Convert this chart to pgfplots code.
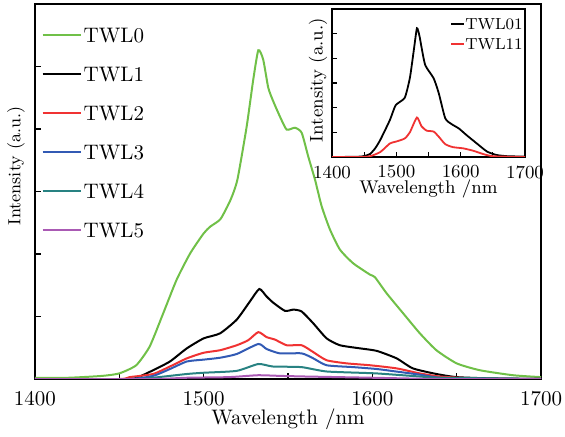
\documentclass[border=0pt]{standalone}
\usepackage{pgfplots}
\pgfplotsset{compat=1.18}
\definecolor{cgreen}{RGB}{112,192,72}
\definecolor{cred}{RGB}{240,50,50}
\definecolor{cblue}{RGB}{50,90,180}
\definecolor{cteal}{RGB}{40,130,130}
\definecolor{cpurple}{RGB}{170,90,180}
\begin{document}
\begin{tikzpicture}
\begin{axis}[
    name=main,
    scale only axis,
    width=253pt, height=187.5pt,
    xmin=1400, xmax=1700, ymin=0, ymax=6,
    axis line style={line width=0.8pt},
    xtick={1400,1450,...,1700},
    xticklabels={1400,,1500,,1600,,1700},
    ytick={1,2,3,4,5},
    yticklabels={},
    tick pos=left,
    tick align=inside,
    major tick length=3pt,
    tick style={black, line width=0.7pt},
    ticklabel style={font=\fontsize{10.5}{12}\selectfont},
    xticklabel style={yshift=-2.6pt},
    xlabel={Wavelength /nm},
    ylabel={Intensity (a.u.)},
    label style={font=\fontsize{10.5}{12}\selectfont, inner sep=0pt},
    xlabel style={at={(axis description cs:0.5,-0.106)}, anchor=center},
    ylabel style={at={(axis description cs:-0.0375,0.568)}, anchor=center,
        font=\fontsize{8.8}{10}\selectfont},
    legend image code/.code={\draw[#1,sharp plot] (0pt,0pt) -- (19pt,0pt);},
    legend style={draw=none, fill=none, inner sep=0pt,
        at={(axis description cs:0.0125,0.937)}, anchor=north west,
        font=\fontsize{10.5}{12}\selectfont,
        row sep=12.5pt, column sep=1pt,
        nodes={inner sep=0pt, text height=7pt, text depth=0pt}},
    legend cell align=left,
    every axis plot/.append style={line width=1pt},
]
\addplot[cgreen, smooth, tension=0.35] coordinates {
(1400,0.02)(1420,0.02)(1440,0.05)(1450,0.09)(1460,0.22)(1468,0.52)(1476,1.05)
(1484,1.59)(1492,2.01)(1500,2.33)(1504,2.44)(1510,2.56)(1516,2.87)(1520,3.19)
(1525.5,4.04)(1529.4,4.79)(1532.4,5.26)(1535.3,5.11)(1538.3,4.66)(1541.3,4.44)
(1545.2,4.2)(1549.2,3.99)(1554.1,4.02)(1558.1,3.94)(1562,3.56)(1566,3.19)
(1570,2.76)(1574.9,2.39)(1580.8,2.07)(1588.7,1.85)(1598.6,1.67)(1601.5,1.63)
(1608.5,1.37)(1618.3,1.05)(1628.2,0.73)(1638,0.46)(1650,0.25)(1663.8,0.14)
(1683.5,0.06)(1700,0.03)};
\addlegendentry{TWL0}
\addplot[black, smooth, tension=0.35] coordinates {
(1400,0)(1455,0)(1462,0.04)(1470,0.14)(1480,0.28)(1490,0.49)(1500,0.65)
(1509.7,0.73)(1519.6,0.95)(1527.4,1.24)(1533,1.44)(1537.3,1.32)(1541.3,1.22)
(1548.2,1.09)(1553.2,1.11)(1558.1,1.08)(1565,0.89)(1572.9,0.65)(1580.8,0.54)
(1592.7,0.49)(1602.6,0.45)(1614.4,0.33)(1624,0.17)(1638,0.08)(1650,0.03)
(1670,0.01)(1700,0)};
\addlegendentry{TWL1}
\addplot[cred, smooth, tension=0.35] coordinates {
(1400,0)(1450,0)(1456,0.03)(1470,0.08)(1480,0.2)(1490,0.33)(1500,0.42)
(1509.7,0.46)(1519.6,0.54)(1526.4,0.62)(1532.4,0.75)(1537.3,0.67)(1542.3,0.63)
(1549.2,0.54)(1558.1,0.54)(1565,0.43)(1572.9,0.3)(1584.8,0.25)(1598.6,0.22)
(1614.4,0.17)(1628,0.09)(1640,0.04)(1660,0.01)(1700,0)};
\addlegendentry{TWL2}
\addplot[cblue, smooth, tension=0.35] coordinates {
(1400,0)(1455,0)(1470,0.05)(1480,0.16)(1490,0.28)(1500,0.31)(1509.7,0.34)
(1519.6,0.4)(1532.4,0.56)(1537.3,0.48)(1545.2,0.41)(1558.1,0.41)(1565,0.33)
(1572.9,0.22)(1588.7,0.19)(1602.6,0.16)(1614,0.12)(1628,0.07)(1640,0.02)
(1660,0.01)(1700,0)};
\addlegendentry{TWL3}
\addplot[cteal, smooth, tension=0.35] coordinates {
(1400,0)(1460,0)(1470,0.02)(1490,0.08)(1500,0.1)(1519.6,0.13)(1532.4,0.24)
(1541,0.2)(1558,0.19)(1573,0.12)(1602,0.09)(1628,0.04)(1640,0.02)(1700,0)};
\addlegendentry{TWL4}
\addplot[cpurple, smooth, tension=0.35] coordinates {
(1400,0)(1470,0)(1490,0.02)(1515,0.03)(1532,0.06)(1545,0.05)(1560,0.04)
(1600,0.02)(1640,0)(1700,0)};
\addlegendentry{TWL5}
\end{axis}
\begin{axis}[
    at={(148.5pt,185pt)}, anchor=north west,
    scale only axis,
    width=96.5pt, height=74pt,
    xmin=1400, xmax=1700, ymin=0, ymax=6,
    axis background/.style={fill=white},
    axis line style={line width=0.7pt},
    xtick={1400,1450,...,1700},
    xticklabels={1400,,1500,,1600,,1700},
    ytick={1,2,3,4,5},
    yticklabels={},
    tick pos=left,
    tick align=inside,
    major tick length=2.5pt,
    tick style={black, line width=0.6pt},
    ticklabel style={font=\fontsize{9.2}{11}\selectfont},
    xticklabel style={yshift=-0.8pt},
    xlabel={Wavelength /nm},
    ylabel={Intensity (a.u.)},
    label style={font=\fontsize{9.2}{11}\selectfont, inner sep=0pt},
    xlabel style={at={(axis description cs:0.5,-0.218)}, anchor=center},
    ylabel style={at={(axis description cs:-0.072,0.52)}, anchor=center},
    legend image code/.code={\draw[#1,sharp plot,line width=1pt] (0pt,0pt) -- (6.5pt,0pt);},
    legend style={draw=none, fill=none, inner sep=0pt,
        at={(axis description cs:0.611,0.94)}, anchor=north west,
        font=\fontsize{8}{9}\selectfont,
        row sep=4.5pt, column sep=0pt,
        nodes={inner sep=0pt, text height=5.5pt, text depth=0pt}},
    legend cell align=left,
    every axis plot/.append style={line width=0.9pt},
]
\addplot[black, smooth, tension=0.35] coordinates {
(1400,0)(1440,0.01)(1450,0.04)(1459,0.12)(1467,0.35)(1475,0.69)(1490,1.5)
(1499,2.1)(1513,2.4)(1521,3.2)(1527,4.3)(1532,5.22)(1536,4.9)(1539,4.47)
(1545,3.72)(1558,3.19)(1566,2.58)(1576,1.57)(1586,1.33)(1597,1.16)(1609,0.89)
(1625,0.55)(1641,0.22)(1656,0.08)(1674,0.03)(1700,0.02)};
\addlegendentry{TWL01}
\addplot[cred, smooth, tension=0.35] coordinates {
(1400,0)(1445,0)(1459,0.03)(1475,0.2)(1490,0.55)(1499,0.62)(1513,0.75)
(1521,1.0)(1532,1.6)(1539,1.25)(1547,1.07)(1558,1.03)(1566,0.82)(1576,0.52)
(1588,0.4)(1604,0.35)(1620,0.25)(1635,0.12)(1651,0.03)(1700,0)};
\addlegendentry{TWL11}
\end{axis}
\pgfresetboundingbox
\path (-17.5pt,-29pt) rectangle (265pt,189.5pt);
\end{tikzpicture}
\end{document}
